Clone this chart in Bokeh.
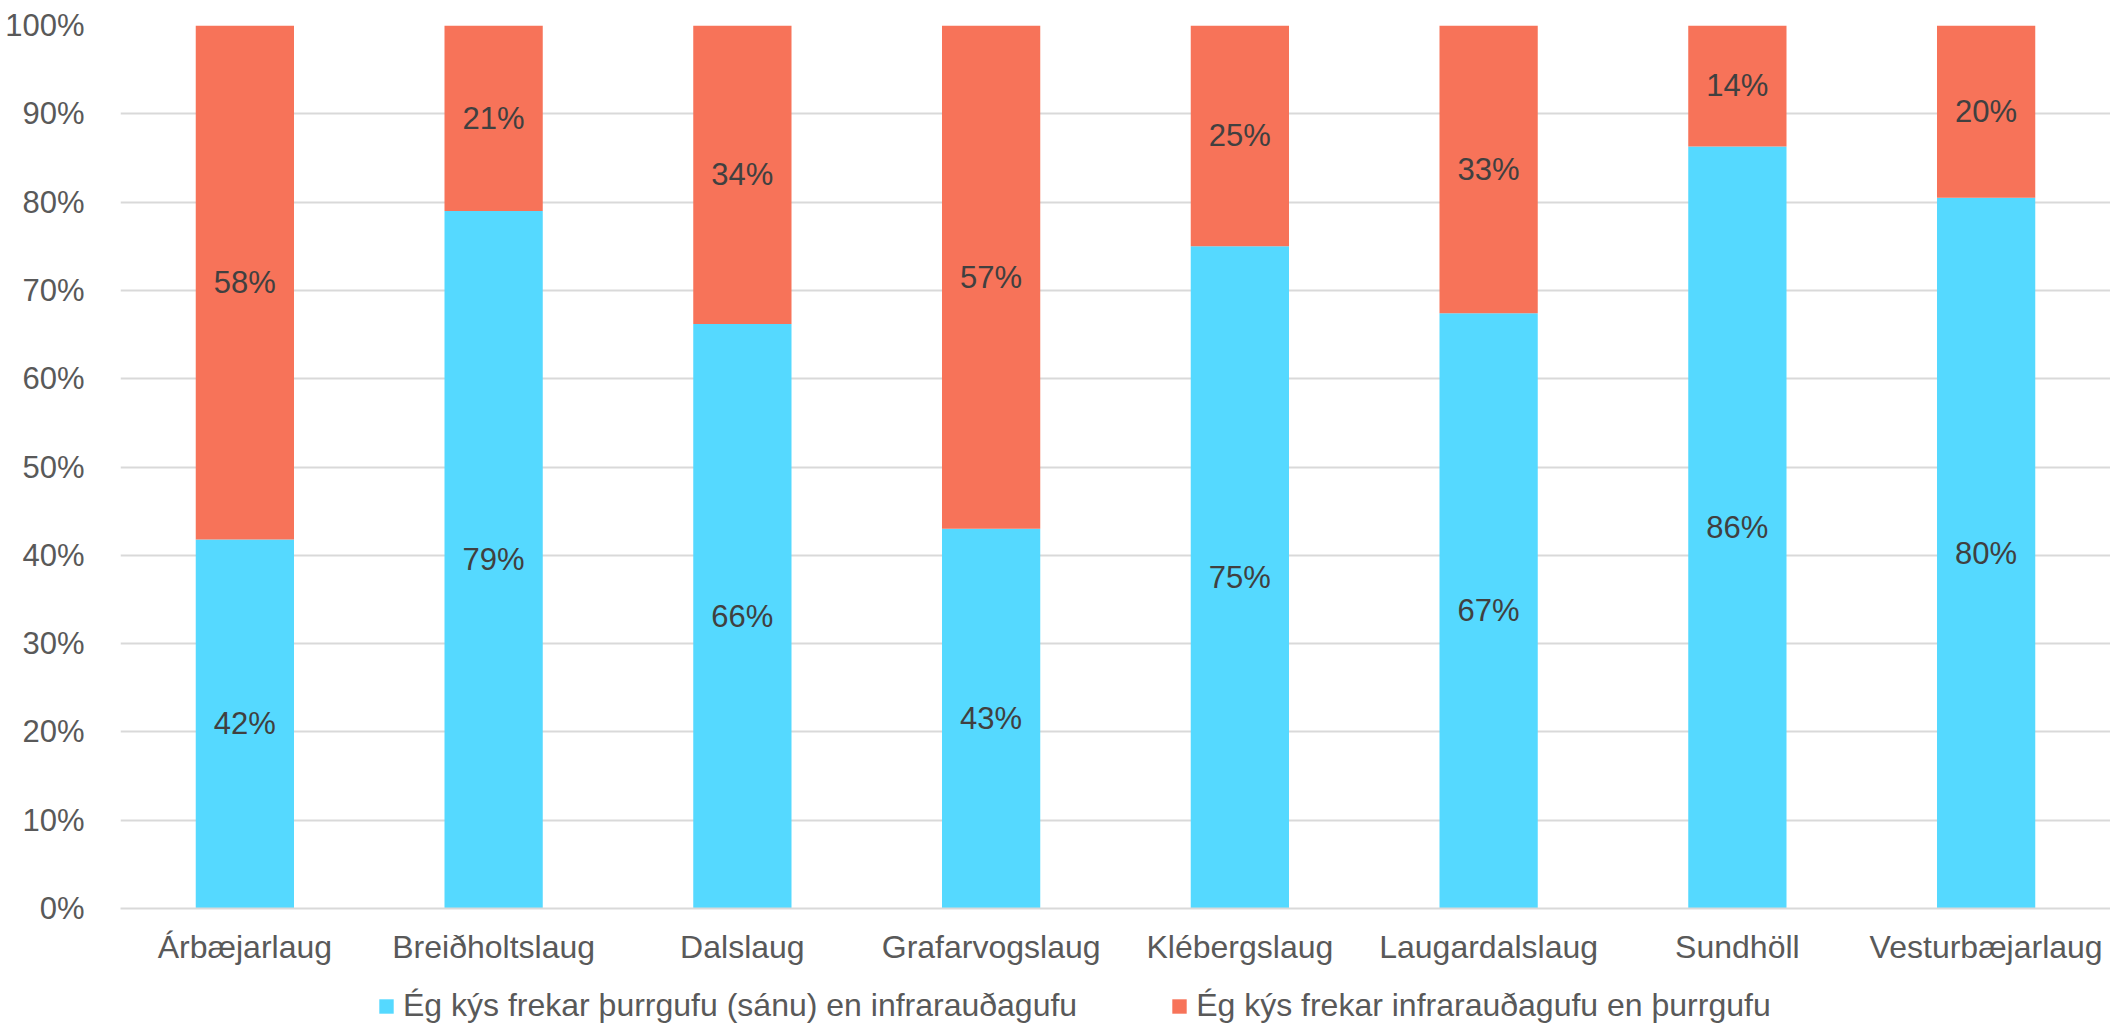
from bokeh.plotting import figure
from bokeh.layouts import column
from bokeh.models import ColumnDataSource, Legend, LegendItem, FixedTicker, Range1d, FactorRange
from bokeh.embed import file_html
from bokeh.resources import INLINE
from bokeh.core.properties import value

pools = ["Árbæjarlaug", "Breiðholtslaug", "Dalslaug", "Grafarvogslaug",
         "Klébergslaug", "Laugardalslaug", "Sundhöll", "Vesturbæjarlaug"]
sauna = [41.8, 79.0, 66.2, 43.0, 75.0, 67.4, 86.3, 80.5]
infrared = [58.2, 21.0, 33.8, 57.0, 25.0, 32.6, 13.7, 19.5]
series_names = ["Ég kýs frekar þurrgufu (sánu) en infrarauðagufu",
                "Ég kýs frekar infrarauðagufu en þurrgufu"]
y_ticks = [0, 10, 20, 30, 40, 50, 60, 70, 80, 90, 100]

BLUE = "#55D9FF"
ORANGE = "#F77359"
FONT = "Liberation Sans"

src = ColumnDataSource(dict(
    pool=pools, sauna=sauna, infrared=infrared,
    sauna_mid=[s / 2 for s in sauna],
    infra_mid=[s + i / 2 for s, i in zip(sauna, infrared)],
    sauna_lbl=[f"{round(s)}%" for s in sauna],
    infra_lbl=[f"{round(i)}%" for i in infrared],
))

xr = FactorRange(*pools, range_padding=0)
p = figure(x_range=xr, y_range=Range1d(0, 100),
           width=2110, height=976, output_backend="svg", toolbar_location=None,
           min_border_left=120, min_border_right=0, min_border_top=25, min_border_bottom=68)
p.outline_line_color = None
p.background_fill_color = "white"
p.border_fill_color = "white"

r = p.vbar_stack(["sauna", "infrared"], x="pool", width=0.395, source=src,
                 color=[BLUE, ORANGE], line_color=None)

for ycol, tcol in (("sauna_mid", "sauna_lbl"), ("infra_mid", "infra_lbl")):
    p.text(x="pool", y=ycol, text=tcol, source=src, text_align="center",
           text_baseline="middle", text_font=value(FONT), text_font_size="31px",
           text_color="#404040")

p.yaxis.ticker = FixedTicker(ticks=y_ticks)
p.yaxis.major_label_overrides = {t: f"{t}%" for t in y_ticks}
p.yaxis.axis_line_color = None
p.yaxis.major_tick_line_color = None
p.yaxis.minor_tick_line_color = None
p.yaxis.major_label_standoff = 30
p.yaxis.major_label_text_font = FONT
p.yaxis.major_label_text_font_size = "31px"
p.yaxis.major_label_text_color = "#595959"

p.xaxis.axis_line_color = "#D9D9D9"
p.xaxis.axis_line_width = 2
p.xaxis.major_tick_line_color = None
p.xaxis.minor_tick_line_color = None
p.xaxis.major_label_standoff = 14
p.xaxis.major_label_text_font = FONT
p.xaxis.major_label_text_font_size = "32px"
p.xaxis.major_label_text_color = "#595959"

p.xgrid.grid_line_color = None
p.ygrid.grid_line_color = "#D9D9D9"
p.ygrid.grid_line_width = 2

# legend strip below the chart (its frame is aligned with the chart's frame)
lg = figure(width=2110, height=50, output_backend="svg", toolbar_location=None,
            x_range=xr, y_range=Range1d(0, 100),
            x_axis_type=None, y_axis_type=None, min_border=0)
lg.outline_line_color = None
lg.xgrid.grid_line_color = None
lg.ygrid.grid_line_color = None
proxy = lg.vbar_stack(["sauna", "infrared"], x="pool", width=0.4, source=src,
                      color=[BLUE, ORANGE], line_color=None, visible=False)

legend = Legend(items=[LegendItem(label=series_names[0], renderers=[proxy[0]]),
                       LegendItem(label=series_names[1], renderers=[proxy[1]])],
                orientation="horizontal", location=(257, 2),
                padding=0, margin=0, spacing=93, label_standoff=8,
                glyph_width=18, glyph_height=18,
                label_text_font=FONT, label_text_font_size="32px",
                label_text_color="#595959", border_line_color=None,
                background_fill_alpha=0, inactive_fill_alpha=0)
lg.add_layout(legend, "center")

layout = column(p, lg, spacing=0)
open("out.html", "w").write(file_html(layout, INLINE))
